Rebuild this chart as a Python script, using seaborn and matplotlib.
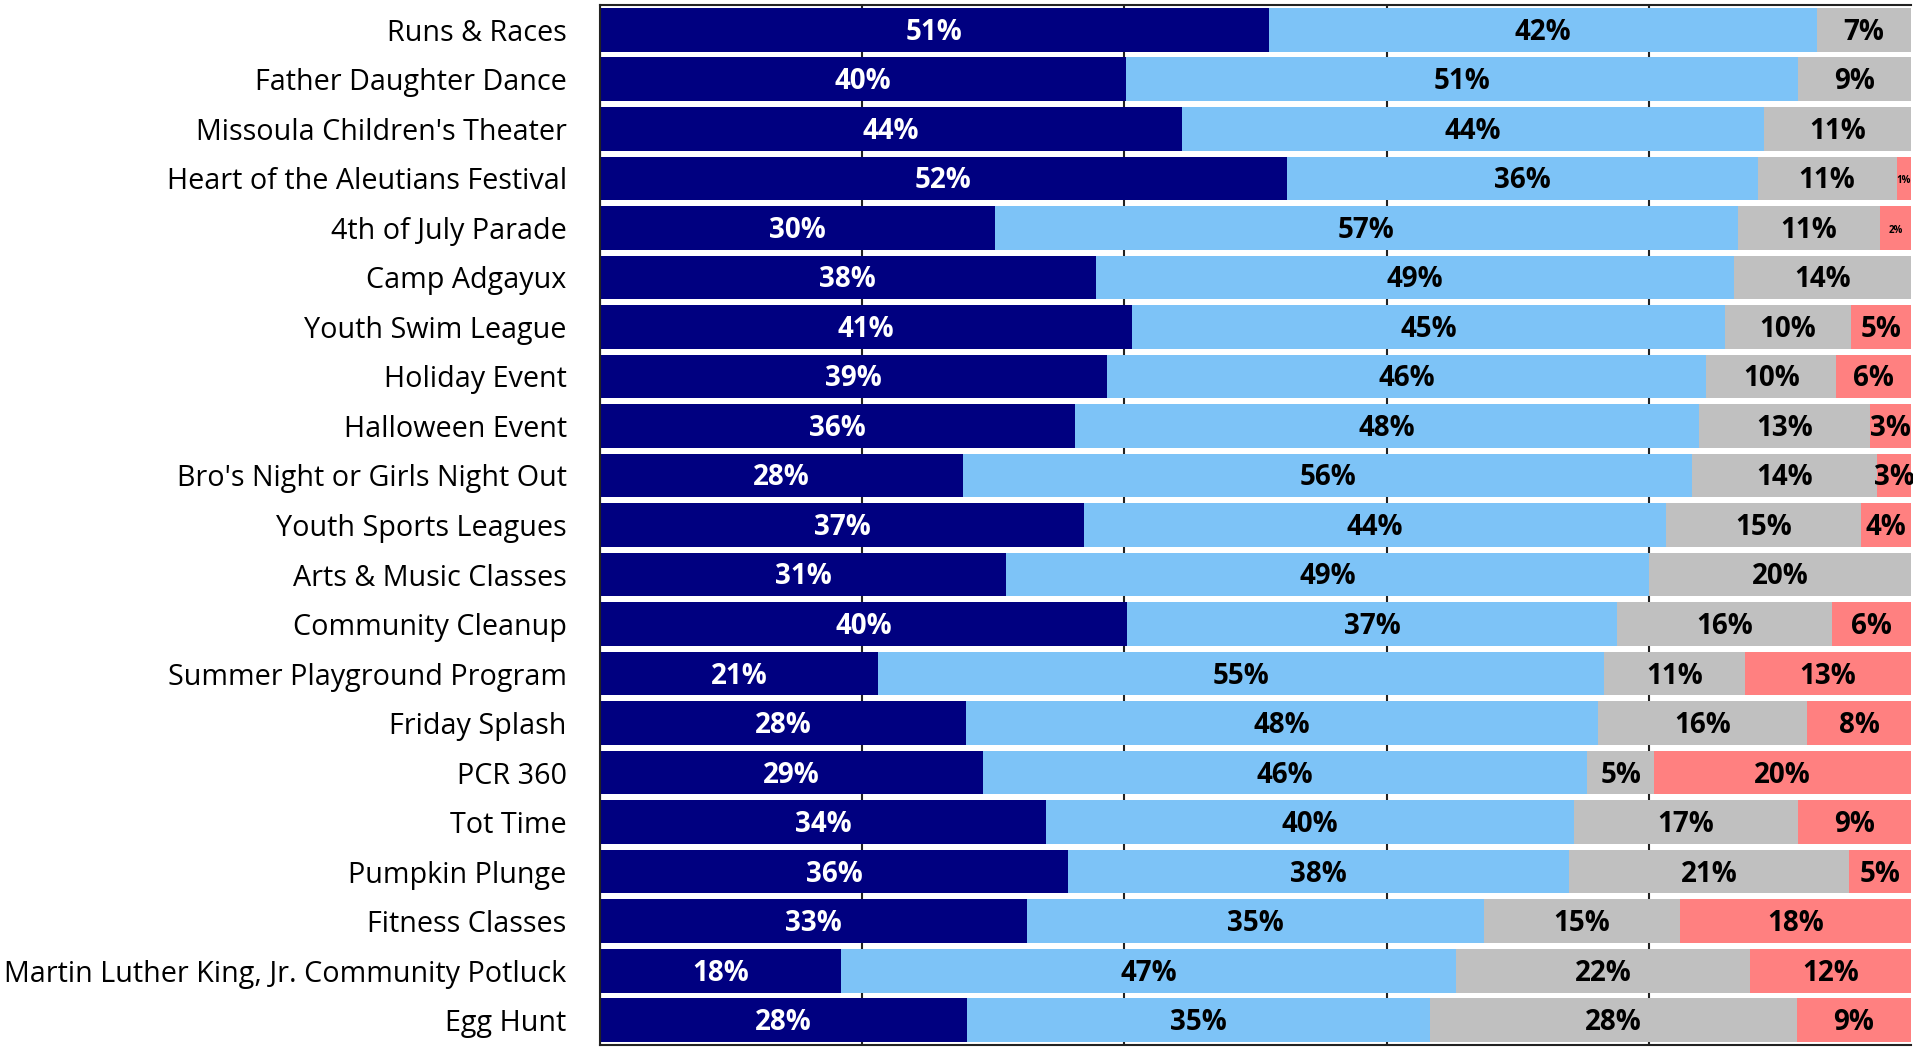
import numpy as np
import pandas as pd
import matplotlib
matplotlib.use("Agg")
import matplotlib.pyplot as plt
import seaborn as sns

# events, top to bottom
events = ["Runs & Races", "Father Daughter Dance", "Missoula Children's Theater",
          "Heart of the Aleutians Festival", "4th of July Parade", "Camp Adgayux",
          "Youth Swim League", "Holiday Event", "Halloween Event",
          "Bro's Night or Girls Night Out", "Youth Sports Leagues", "Arts & Music Classes",
          "Community Cleanup", "Summer Playground Program", "Friday Splash", "PCR 360",
          "Tot Time", "Pumpkin Plunge", "Fitness Classes",
          "Martin Luther King, Jr. Community Potluck", "Egg Hunt"]

# share of responses per answer (percent)
very_likely   = [51.0, 40.1, 44.4, 52.4, 30.1, 37.8, 40.6, 38.7, 36.2, 27.7, 36.9,
                 31.0, 40.2, 21.2, 27.9, 29.2, 34.0, 35.7, 32.6, 18.4, 28.0]
likely        = [41.8, 51.3, 44.4, 35.9, 56.7, 48.7, 45.2, 45.7, 47.6, 55.6, 44.4,
                 49.0, 37.4, 55.4, 48.2, 46.1, 40.3, 38.2, 34.8, 46.9, 35.3]
unlikely      = [7.2, 8.6, 11.2, 10.6, 10.8, 13.5, 9.6, 9.9, 13.1, 14.1, 14.9,
                 20.0, 16.4, 10.7, 16.0, 5.1, 17.1, 21.4, 15.0, 22.4, 28.0]
very_unlikely = [0.0, 0.0, 0.0, 1.1, 2.4, 0.0, 4.6, 5.7, 3.1, 2.6, 3.8,
                 0.0, 6.0, 12.7, 7.9, 19.6, 8.6, 4.7, 17.6, 12.3, 8.7]

colors = ["#000080", "#7DC3F7", "#C0C0C0", "#FF8080"]
series = [very_likely, likely, unlikely, very_unlikely]
FONT = ["Open Sans", "DejaVu Sans"]

df = pd.DataFrame({"event": events})
cum = np.cumsum(np.array(series), axis=0)
for i in range(4):
    df[f"c{i}"] = cum[i]

fig = plt.figure(figsize=(19.13, 10.48), dpi=100)
ax = fig.add_axes([600 / 1913, 3 / 1048, 1311 / 1913, 1040 / 1048])

# stacked look: draw running totals from the longest down
for i in [3, 2, 1, 0]:
    sns.barplot(data=df, y="event", x=f"c{i}", color=colors[i], orient="h",
                width=0.88, saturation=1, ax=ax, zorder=2)

# segment labels
for i, vals in enumerate(series):
    starts = cum[i] - np.array(vals)
    for j, v in enumerate(vals):
        if v <= 0:
            continue
        x = starts[j] + v / 2
        size = 7 if v < 2.5 else 20
        ax.text(x, j + 0.05, f"{v:.0f}%", ha="center", va="center", fontsize=size,
                fontweight="bold", family=FONT,
                color="white" if i == 0 else "black", zorder=3)

ax.set_xlim(0, 100)
ax.set_xticks([0, 20, 40, 60, 80])
ax.set_xticklabels([])
ax.set_axisbelow(True)
ax.xaxis.grid(True, color="#222222", lw=1.5, zorder=0)
ax.set_xlabel("")
ax.set_ylabel("")
ax.tick_params(axis="y", length=0, pad=24, labelsize=20.7)
ax.tick_params(axis="x", length=0)
for lab in ax.get_yticklabels():
    lab.set_family(FONT)
for s in ["top", "left", "bottom"]:
    ax.spines[s].set_color("#222222")
    ax.spines[s].set_linewidth(1.5)
ax.spines["right"].set_visible(False)

fig.savefig("out.png", dpi=100)
